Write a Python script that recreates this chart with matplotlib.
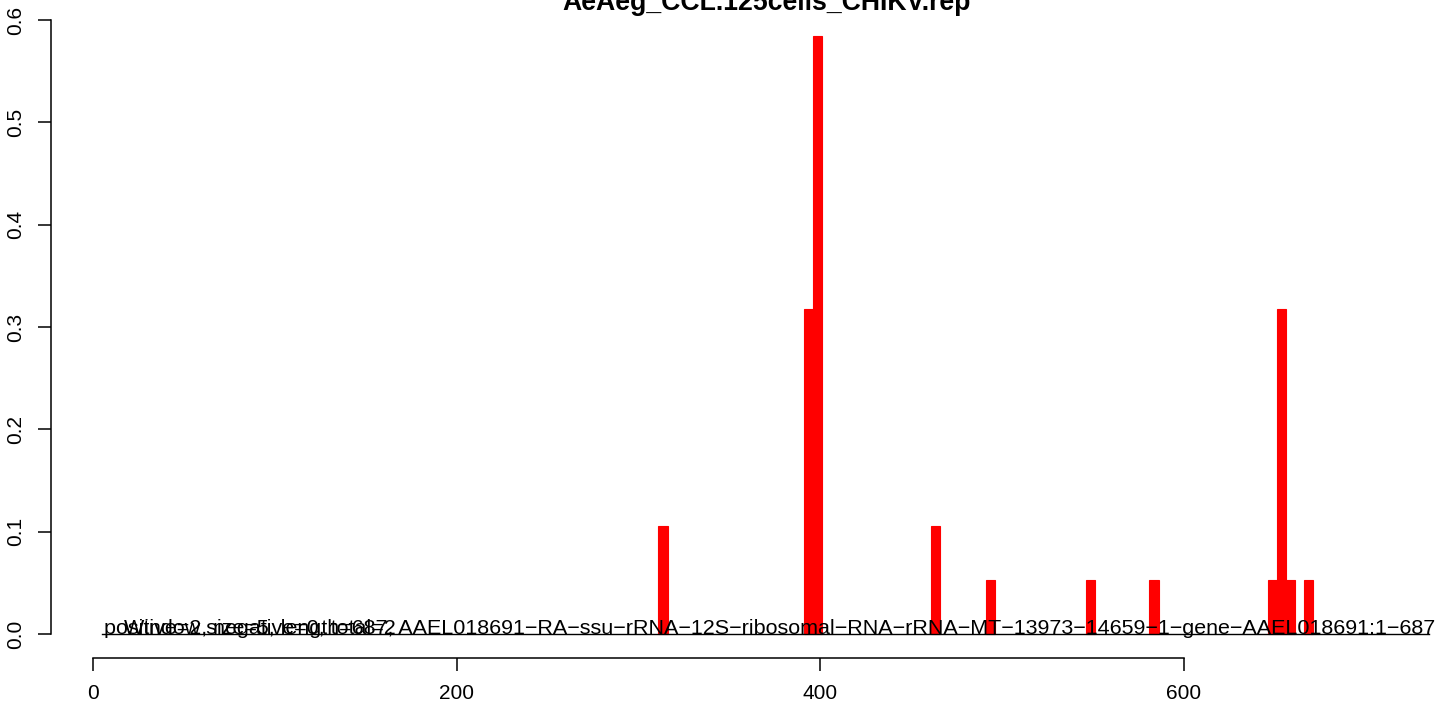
import numpy as np
import matplotlib
matplotlib.use('Agg')
import matplotlib.pyplot as plt

plt.rcParams['font.family'] = ['Liberation Sans', 'DejaVu Sans']

# window start positions and the fraction of reads in each window
bin_start = [311, 391, 396, 461, 491, 546, 581, 646, 651, 656, 666]
bin_value = [0.106, 0.318, 0.584, 0.106, 0.053, 0.053, 0.053, 0.053, 0.318, 0.053, 0.053]
window = 5

title = 'AeAeg_CCL.125cells_CHIKV.rep'
label_counts = 'positive=2, negative=0, total=2'
label_info = ('Window size=5, length=687, AAEL018691\u2212RA\u2212ssu\u2212rRNA\u221212S\u2212ribosomal\u2212RNA'
              '\u2212rRNA\u2212MT\u221213973\u221214659\u22121\u2212gene\u2212AAEL018691:1\u2212687')
xticks = [0, 200, 400, 600]
yticks = [0.0, 0.1, 0.2, 0.3, 0.4, 0.5, 0.6]

W, H = 1444, 709
fig = plt.figure(figsize=(W / 100, H / 100), dpi=100)

# plot region in pixels (R style layout)
left, right, top, bottom = 51, 1444, 10, 658
ax = fig.add_axes([left / W, 1 - bottom / H, (right - left) / W, (bottom - top) / H])

x0px, xs = 93, 1.8183      # pixel of x=0, pixels per unit
y0px, ys = 634, 1023.3     # pixel of y=0, pixels per unit
ax.set_xlim((left - x0px) / xs, (right - x0px) / xs)
ax.set_ylim((y0px - bottom) / ys, (y0px - top) / ys)

ax.bar(bin_start, bin_value, width=window, align='edge', color='#FF0000',
       edgecolor='#FF0000', linewidth=0.8)

ax.text(6, 0, label_counts, ha='left', va='baseline', fontsize=15.45, clip_on=False)
ax.text(17, 0, label_info, ha='left', va='baseline', fontsize=15.45, clip_on=False)
ax.plot([5, 735], [0, 0], color='black', linewidth=1, clip_on=False)

for s in ['top', 'right']:
    ax.spines[s].set_visible(False)
ax.spines['left'].set_bounds(0, 0.6)
ax.spines['bottom'].set_bounds(0, 600)
ax.spines['left'].set_linewidth(1.1)
ax.spines['bottom'].set_linewidth(1.1)

ax.set_xticks(xticks)
ax.set_xticklabels([str(t) for t in xticks], fontsize=15)
ax.set_yticks(yticks)
ax.set_yticklabels(['%.1f' % t for t in yticks], fontsize=15, rotation=90, va='center')
ax.tick_params(axis='both', length=9.5, width=1.1, pad=9)

fig.text(767 / W, 1 - 10 / H, title, ha='center', va='baseline', fontsize=19.2,
         fontweight='bold')

plt.savefig('out.png', dpi=100)
